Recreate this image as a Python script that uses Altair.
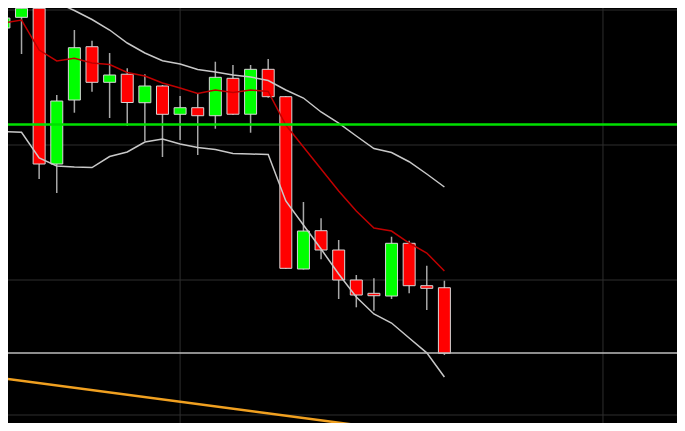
import altair as alt
import pandas as pd

# ---- data ----
idx = list(range(26))
open_ = [943.33, 947.29, 950.63, 892.96, 916.66, 936.40, 923.22, 926.22, 915.66, 921.85,
         911.37, 913.81, 910.85, 924.70, 911.40, 928.03, 917.89, 854.07, 868.26, 861.11,
         850.00, 845.07, 844.07, 863.59, 847.89, 847.14]
close = [947.03, 950.63, 892.96, 916.29, 936.03, 923.22, 925.92, 915.74, 921.85, 911.37,
         913.81, 910.85, 925.07, 911.40, 928.03, 917.89, 854.33, 868.14, 861.11, 850.00,
         844.44, 844.18, 863.59, 847.89, 846.92, 822.85]
high = [950.37, 954.44, 952.70, 918.51, 942.59, 938.63, 934.07, 928.44, 926.22, 922.22,
        918.14, 918.89, 930.85, 929.63, 929.63, 931.85, 918.14, 878.89, 872.85, 864.81,
        851.85, 850.63, 866.03, 864.55, 855.29, 849.74]
low = [938.51, 933.70, 887.40, 882.22, 911.96, 919.74, 910.00, 907.03, 901.48, 895.55,
       901.85, 896.29, 906.03, 911.11, 904.55, 917.51, 854.07, 853.89, 857.66, 842.96,
       839.89, 838.63, 842.96, 845.07, 838.89, 822.22]
ma = [945.18, 946.29, 935.18, 931.11, 932.11, 930.37, 929.81, 926.85, 925.55, 922.96,
      921.11, 919.07, 920.37, 919.44, 920.37, 919.81, 907.41, 899.26, 891.11, 882.96,
      875.55, 869.26, 868.14, 863.70, 860.00, 853.33]
upper = [962.96, 959.63, 956.29, 952.77, 949.81, 946.48, 942.59, 937.77, 934.07, 931.22,
         930.00, 927.96, 927.03, 925.92, 925.18, 923.89, 920.37, 917.40, 912.22, 908.14,
         903.33, 898.70, 897.22, 893.81, 889.26, 884.44]
lower = [904.92, 904.70, 895.18, 892.22, 891.85, 891.66, 895.74, 897.40, 901.11, 902.22,
         900.37, 899.07, 898.33, 896.85, 896.66, 896.48, 879.26, 870.37, 861.48, 852.22,
         843.70, 837.41, 834.07, 828.51, 823.03, 814.07]
outer_i = [12, 13, 14, 15, 16]
outer_v = [960.00, 954.26, 953.33, 952.51, 959.26]

green_level = [907.59]
gray_level = [822.96]
trend_i = [-1, 30]
trend_v = [814.37, 787.70]

grid_x = [-14, 10, 34]
grid_y = [800, 850, 900, 950]

# ---- tables ----
candles = pd.DataFrame(dict(i=idx, open=open_, close=close, high=high, low=low))
bands = pd.DataFrame(dict(i=idx, ma=ma, upper=upper, lower=lower))
outer = pd.DataFrame(dict(i=outer_i, v=outer_v))
trend = pd.DataFrame(dict(i=trend_i, v=trend_v))

xs = alt.Scale(domain=[0.2327, 38.201], nice=False, zero=False)
ys = alt.Scale(domain=[797.04, 950.74], nice=False, zero=False)


def X(field, **kw):
    return alt.X(field, type="quantitative", scale=xs, axis=None, **kw)


def Y(field, **kw):
    return alt.Y(field, type="quantitative", scale=ys, axis=None, **kw)


gridv = alt.Chart(pd.DataFrame(dict(g=grid_x))).mark_rule(
    color="#2e2e2e", strokeWidth=1, clip=True).encode(x=X("g"))
gridh = alt.Chart(pd.DataFrame(dict(g=grid_y))).mark_rule(
    color="#2e2e2e", strokeWidth=1, clip=True).encode(y=Y("g"))

wicks = alt.Chart(candles).mark_rule(color="#a8a8a8", strokeWidth=1.5, clip=True).encode(
    x=X("i"), y=Y("low"), y2="high")

bodies = alt.Chart(candles).transform_calculate(
    x0="datum.i - 0.34", x1="datum.i + 0.34"
).mark_rect(stroke="#d6d6d6", strokeWidth=1, clip=True).encode(
    x=X("x0"), x2="x1", y=Y("open"), y2="close",
    fill=alt.condition("datum.close >= datum.open", alt.value("#00ff00"), alt.value("#ff0000")),
)

upper_l = alt.Chart(bands).mark_line(color="#c8c8c8", strokeWidth=1.5, clip=True).encode(
    x=X("i"), y=Y("upper"))
lower_l = alt.Chart(bands).mark_line(color="#c8c8c8", strokeWidth=1.5, clip=True).encode(
    x=X("i"), y=Y("lower"))
outer_l = alt.Chart(outer).mark_line(color="#c8c8c8", strokeWidth=1.5, clip=True).encode(
    x=X("i"), y=Y("v"))
ma_l = alt.Chart(bands).mark_line(color="#c00000", strokeWidth=1.5, clip=True).encode(
    x=X("i"), y=Y("ma"))

green_r = alt.Chart(pd.DataFrame(dict(v=green_level))).mark_rule(
    color="#00e000", strokeWidth=2.5, clip=True).encode(y=Y("v"))
gray_r = alt.Chart(pd.DataFrame(dict(v=gray_level))).mark_rule(
    color="#bdbdbd", strokeWidth=1.5, clip=True).encode(y=Y("v"))
trend_l = alt.Chart(trend).mark_line(color="#f0a020", strokeWidth=2.5, clip=True).encode(
    x=X("i"), y=Y("v"))

chart = alt.layer(
    gridv, gridh, wicks, bodies, upper_l, lower_l, outer_l, ma_l, green_r, gray_r, trend_l
).properties(
    width=669, height=415,
    autosize=alt.AutoSizeParams(type="none"),
    padding=0,
    background="#000000",
).configure_view(strokeWidth=0)

chart.save("out.html", embed_options={"renderer": "svg", "actions": False})
